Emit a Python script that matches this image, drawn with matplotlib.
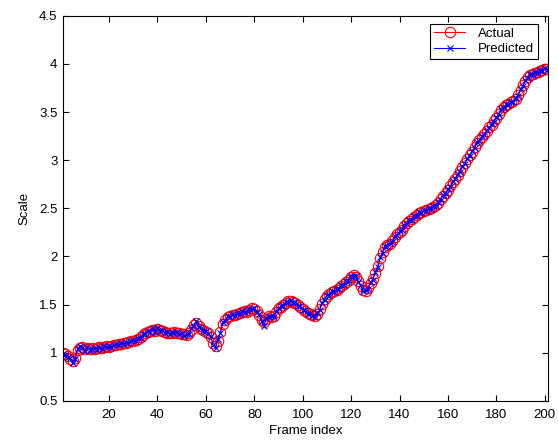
import matplotlib
matplotlib.use("Agg")
import matplotlib.pyplot as plt
import numpy as np

frames = list(range(1, 202))

actual = [
    1.00, 0.99, 0.97, 0.93, 0.91, 0.95, 1.03, 1.05, 1.06, 1.04,
    1.05, 1.04, 1.05, 1.04, 1.05, 1.06, 1.05, 1.06, 1.07, 1.06,
    1.07, 1.08, 1.08, 1.09, 1.09, 1.10, 1.10, 1.11, 1.12, 1.12,
    1.13, 1.14, 1.16, 1.18, 1.20, 1.22, 1.23, 1.24, 1.23, 1.25,
    1.24, 1.23, 1.22, 1.21, 1.20, 1.21, 1.22, 1.21, 1.20, 1.19,
    1.19, 1.18, 1.20, 1.24, 1.29, 1.31, 1.28, 1.25, 1.24, 1.22,
    1.20, 1.16, 1.10, 1.07, 1.12, 1.22, 1.30, 1.34, 1.37, 1.38,
    1.39, 1.39, 1.40, 1.41, 1.42, 1.43, 1.42, 1.44, 1.46, 1.45,
    1.43, 1.39, 1.34, 1.32, 1.35, 1.38, 1.37, 1.38, 1.42, 1.46,
    1.48, 1.50, 1.52, 1.54, 1.54, 1.53, 1.52, 1.50, 1.48, 1.45,
    1.43, 1.41, 1.40, 1.39, 1.38, 1.40, 1.45, 1.51, 1.56, 1.59,
    1.61, 1.63, 1.64, 1.65, 1.67, 1.69, 1.71, 1.73, 1.76, 1.79,
    1.81, 1.79, 1.74, 1.69, 1.65, 1.64, 1.67, 1.72, 1.77, 1.83,
    1.90, 1.98, 2.05, 2.10, 2.12, 2.13, 2.16, 2.20, 2.23, 2.25,
    2.28, 2.32, 2.35, 2.37, 2.39, 2.41, 2.43, 2.45, 2.46, 2.47,
    2.48, 2.49, 2.50, 2.51, 2.53, 2.56, 2.60, 2.63, 2.66, 2.69,
    2.73, 2.77, 2.81, 2.85, 2.89, 2.93, 2.97, 3.01, 3.05, 3.09,
    3.14, 3.18, 3.21, 3.24, 3.27, 3.30, 3.34, 3.37, 3.41, 3.44,
    3.48, 3.52, 3.55, 3.57, 3.58, 3.60, 3.62, 3.64, 3.68, 3.73,
    3.78, 3.82, 3.86, 3.89, 3.90, 3.91, 3.92, 3.93, 3.94, 3.95,
    3.95,
]

predicted = [
    0.99, 0.98, 0.96, 0.95, 0.89, 0.93, 1.04, 1.07, 1.05, 1.02,
    1.06, 1.03, 1.04, 1.05, 1.03, 1.06, 1.04, 1.07, 1.06, 1.07,
    1.06, 1.08, 1.09, 1.08, 1.10, 1.09, 1.11, 1.10, 1.12, 1.13,
    1.12, 1.15, 1.15, 1.19, 1.19, 1.23, 1.22, 1.26, 1.22, 1.26,
    1.23, 1.24, 1.21, 1.22, 1.19, 1.22, 1.21, 1.22, 1.19, 1.20,
    1.17, 1.19, 1.19, 1.26, 1.28, 1.33, 1.27, 1.26, 1.23, 1.23,
    1.19, 1.17, 1.08, 1.05, 1.14, 1.20, 1.32, 1.33, 1.38, 1.37,
    1.40, 1.38, 1.41, 1.40, 1.43, 1.42, 1.43, 1.45, 1.45, 1.46,
    1.42, 1.40, 1.33, 1.28, 1.36, 1.37, 1.38, 1.37, 1.43, 1.45,
    1.49, 1.49, 1.53, 1.53, 1.55, 1.52, 1.53, 1.49, 1.49, 1.44,
    1.44, 1.40, 1.41, 1.38, 1.37, 1.41, 1.44, 1.52, 1.55, 1.60,
    1.60, 1.64, 1.63, 1.66, 1.66, 1.70, 1.70, 1.74, 1.75, 1.80,
    1.80, 1.80, 1.73, 1.70, 1.64, 1.65, 1.66, 1.73, 1.76, 1.84,
    1.89, 1.99, 2.04, 2.11, 2.11, 2.14, 2.15, 2.21, 2.22, 2.26,
    2.27, 2.33, 2.34, 2.38, 2.38, 2.42, 2.42, 2.46, 2.45, 2.48,
    2.47, 2.50, 2.49, 2.52, 2.52, 2.57, 2.59, 2.64, 2.65, 2.70,
    2.72, 2.78, 2.80, 2.86, 2.88, 2.94, 2.96, 3.02, 3.04, 3.10,
    3.13, 3.19, 3.20, 3.25, 3.26, 3.31, 3.33, 3.38, 3.40, 3.45,
    3.47, 3.53, 3.54, 3.58, 3.57, 3.61, 3.61, 3.65, 3.67, 3.74,
    3.77, 3.83, 3.85, 3.90, 3.89, 3.92, 3.91, 3.94, 3.93, 3.96,
    3.94,
]

xticks = [20, 40, 60, 80, 100, 120, 140, 160, 180, 200]
yticks = [0.5, 1, 1.5, 2, 2.5, 3, 3.5, 4, 4.5]
ytick_labels = ["0.5", "1", "1.5", "2", "2.5", "3", "3.5", "4", "4.5"]

plt.rcParams['font.family'] = ['Liberation Sans', 'DejaVu Sans']

fig = plt.figure(figsize=(5.58, 4.40), dpi=100)
ax = fig.add_axes([0.113, 0.089, 0.869, 0.875])

ax.plot(frames, actual, color='red', marker='o', markersize=7.5,
        markerfacecolor='none', markeredgewidth=0.8, linewidth=0.8,
        label='Actual')
ax.plot(frames, predicted, color='blue', marker='x', markersize=4.5,
        markeredgewidth=0.8, linewidth=0.8, label='Predicted')

ax.set_xlim(1, 201.3)
ax.set_ylim(0.5, 4.5)
ax.set_xticks(xticks)
ax.set_yticks(yticks)
ax.set_yticklabels(ytick_labels)
ax.tick_params(axis='both', direction='in', top=True, right=True, length=4,
               labelsize=9.5, width=0.8, colors='black')
ax.tick_params(axis='x', pad=6)
ax.tick_params(axis='y', pad=4)
for s in ax.spines.values():
    s.set_linewidth(0.8)
ax.set_xlabel('Frame index', fontsize=9.5, labelpad=3)
ax.set_ylabel('Scale', fontsize=9.5, labelpad=6)

leg = ax.legend(loc='upper right', fontsize=9.5, fancybox=False,
                edgecolor='black', framealpha=1,
                bbox_to_anchor=(0.993, 0.997),
                handlelength=2.3, borderpad=0.3, labelspacing=0.25,
                handletextpad=1.0)
leg.get_frame().set_linewidth(0.8)

fig.savefig('out.png', dpi=100)
